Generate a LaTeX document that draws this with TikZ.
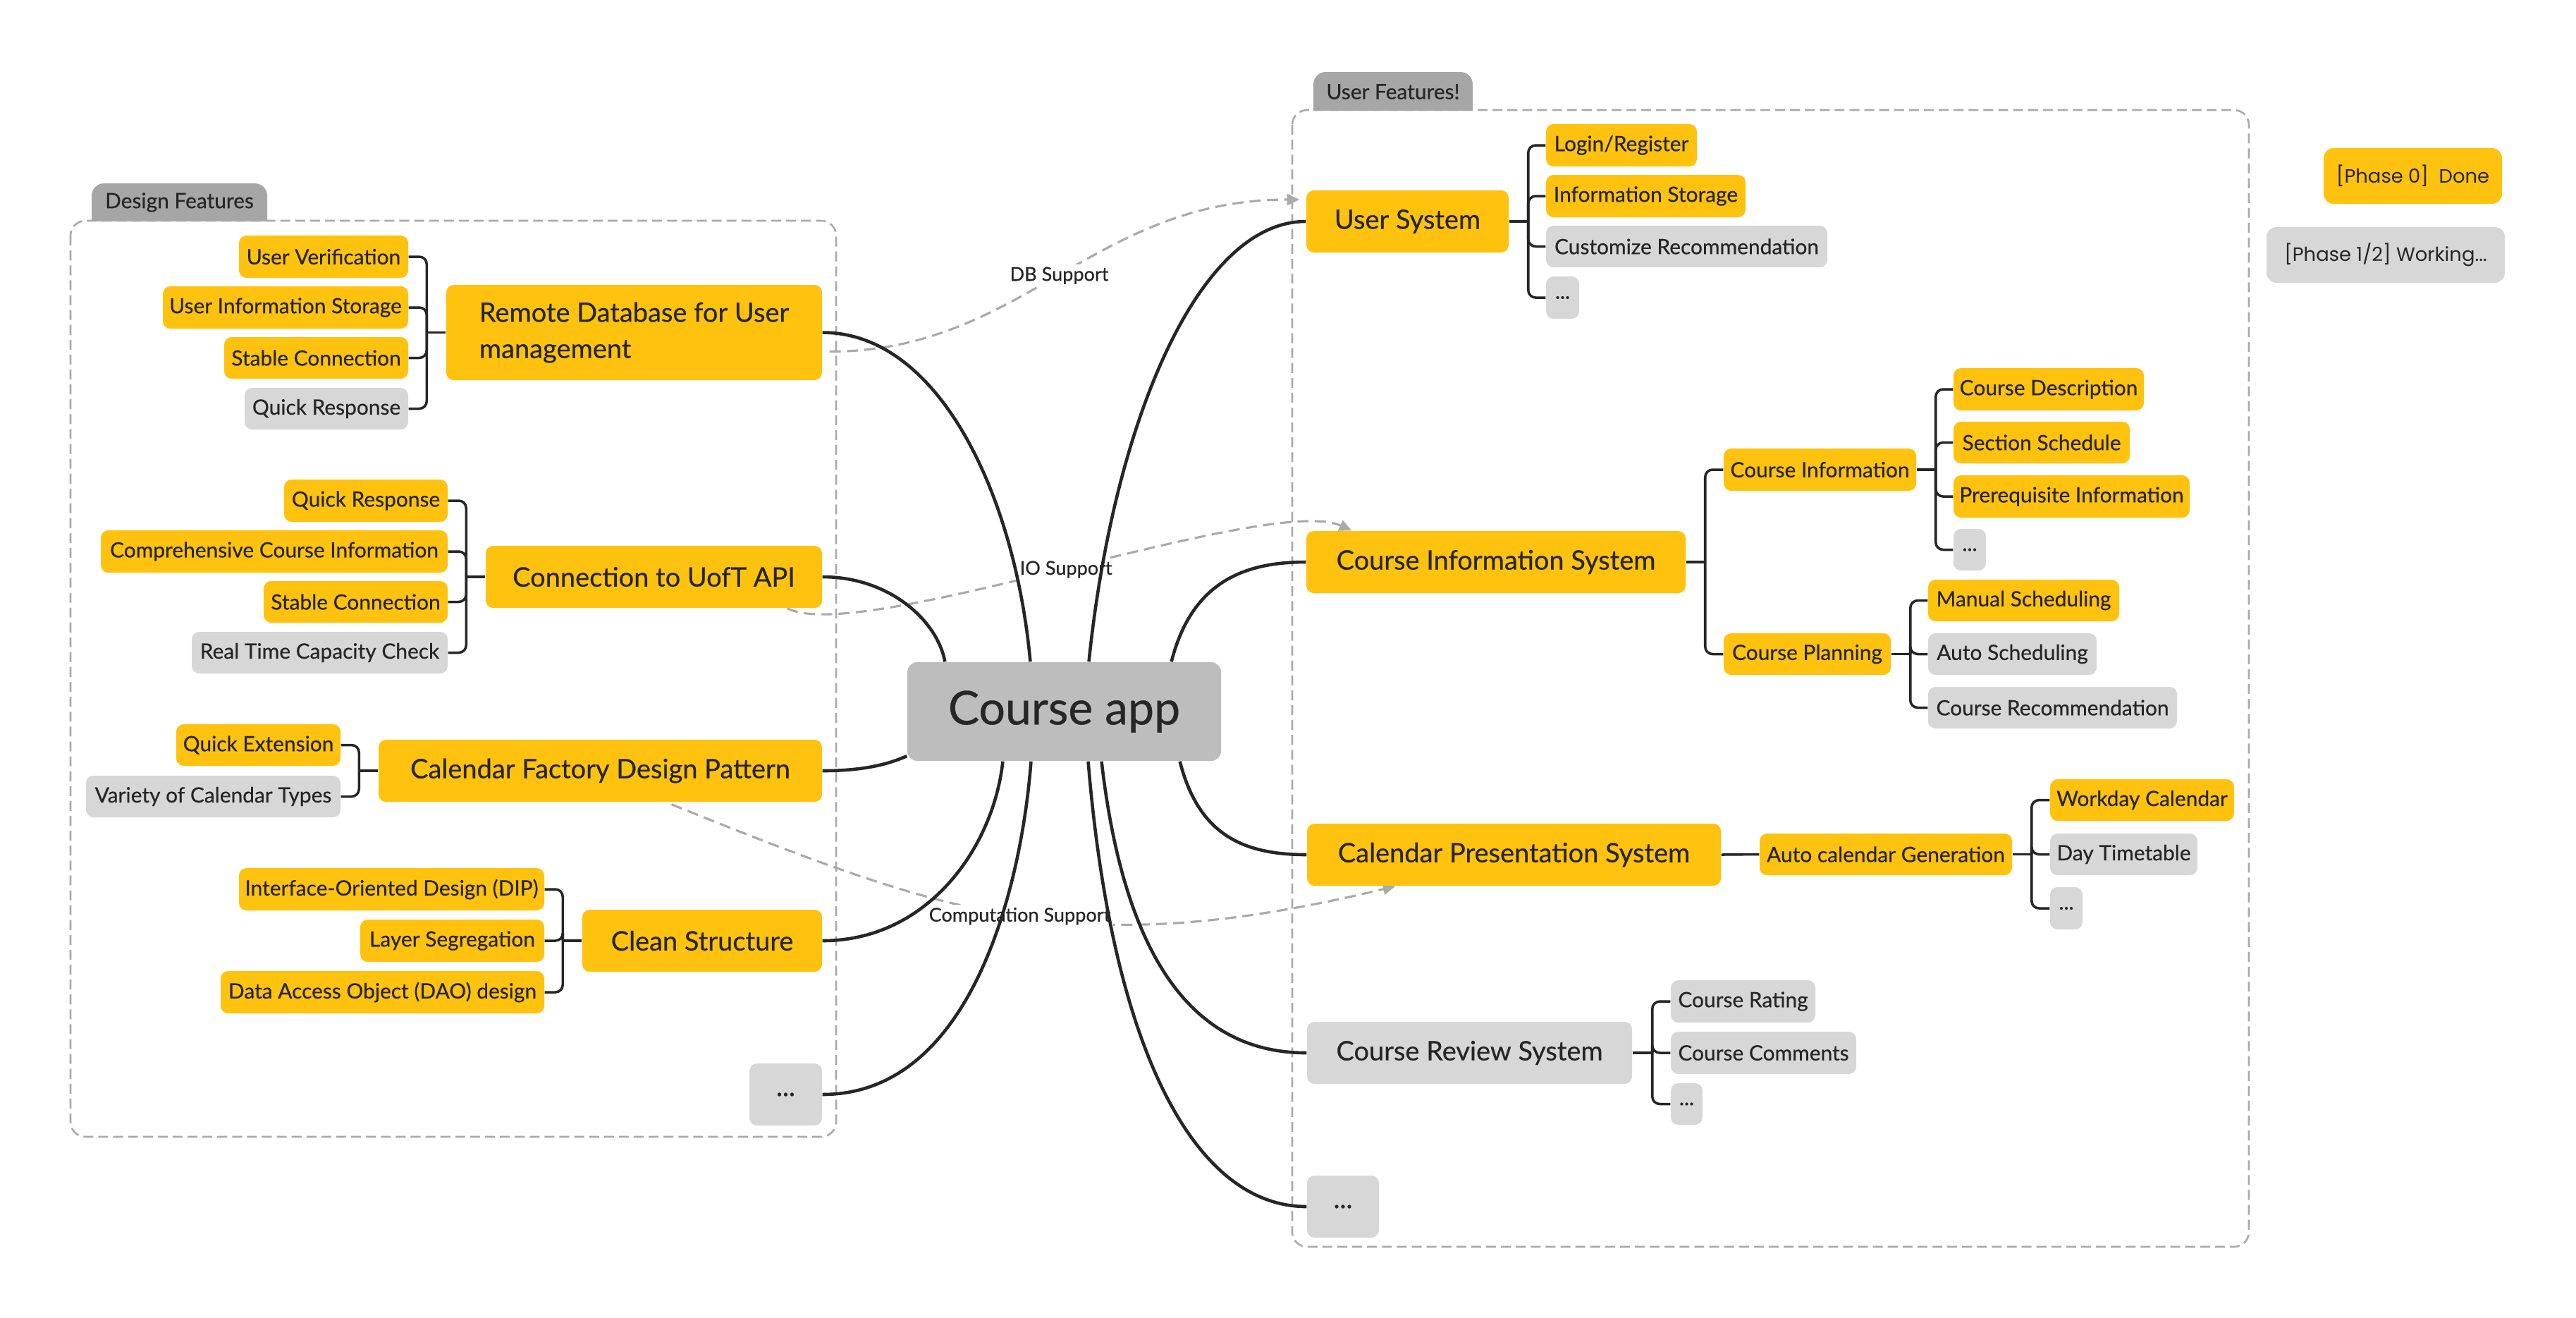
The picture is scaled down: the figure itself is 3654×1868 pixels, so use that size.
\documentclass[tikz,border=0pt]{standalone}
\usepackage{fontspec}
\setmainfont{Lato}[FakeBold=0.5]
\newfontfamily\legendfont{Poppins}
\usetikzlibrary{arrows.meta,backgrounds}

\definecolor{yel}{HTML}{FFC20E}
\definecolor{lgray}{HTML}{D7D7D7}
\definecolor{cgray}{HTML}{BDBDBD}
\definecolor{tabgray}{HTML}{A6A6A6}
\definecolor{dashgray}{HTML}{AAAAAA}
\definecolor{ink}{HTML}{262626}

\newcommand\fsleaf{\fontsize{8.5}{10}\selectfont}
\newcommand\fsmain{\fontsize{10.8}{14.6}\selectfont}
\newcommand\fsroot{\fontsize{18.8}{22}\selectfont}
\newcommand\fslabel{\fontsize{7.7}{9}\selectfont}
\newcommand\fstab{\fontsize{8.5}{10}\selectfont}
\newcommand\fslegend{\legendfont\fontsize{7.8}{9}\selectfont}

% box from its corners (x1,y1)-(x2,y2), in pixel-like units
\newcommand\bx[8][]{\node[#3,minimum width={(#6-#4)*0.01cm},minimum height={(#7-#5)*0.01cm},#1] (#2) at ({(#4+#6)/2},{(#5+#7)/2}) {#8};}

\tikzset{
  box/.style={rounded corners=3pt, inner sep=0pt, align=center, text=ink},
  yleaf/.style={box, fill=yel, font=\fsleaf},
  gleaf/.style={box, fill=lgray, font=\fsleaf},
  ymain/.style={box, fill=yel, font=\fsmain},
  gmain/.style={box, fill=lgray, font=\fsmain},
  rootbox/.style={box, fill=cgray, font=\fsroot, rounded corners=4pt},
  legendbox/.style={box, font=\fslegend, rounded corners=4pt},
  trunk/.style={draw=ink, line width=1.3pt},
  branch/.style={draw=ink, line width=1pt, rounded corners=3pt},
  group/.style={draw=dashgray, line width=0.75pt, dash pattern=on 4pt off 2pt, rounded corners=6pt},
  link/.style={draw=dashgray, line width=0.9pt, dash pattern=on 4.5pt off 2.5pt,
               -{Triangle[length=5pt,width=4.5pt]}},
  linklabel/.style={fill=white, inner sep=1pt, text=ink, font=\fslabel},
  tabtext/.style={text=ink, font=\fstab, inner sep=0pt},
}

\begin{document}
\begin{tikzpicture}[x=0.01cm,y=-0.01cm]
\useasboundingbox (0,0) rectangle (3654,1868);

% ---------- left group: design features ----------
\bx{rdb}{ymain,align=left}{633}{404}{1166}{539}{Remote Database for User\\management}
\bx{rdb1}{yleaf}{339}{334}{579}{394}{User Verification}
\bx{rdb2}{yleaf}{231}{406}{579}{466}{User Information Storage}
\bx{rdb3}{yleaf}{318}{478}{579}{537}{Stable Connection}
\bx{rdb4}{gleaf}{347}{550}{579}{609}{Quick Response}

\bx{api}{ymain}{689}{774}{1166}{862}{Connection to UofT API}
\bx{api1}{yleaf}{403}{680}{635}{740}{Quick Response}
\bx{api2}{yleaf}{143}{752}{635}{812}{Comprehensive Course Information}
\bx{api3}{yleaf}{374}{824}{635}{883}{Stable Connection}
\bx{api4}{gleaf}{272}{896}{635}{955}{Real Time Capacity Check}

\bx{cfd}{ymain}{537}{1049}{1166}{1137}{Calendar Factory Design Pattern}
\bx{cfd1}{yleaf}{250}{1027}{483}{1086}{Quick Extension}
\bx{cfd2}{gleaf}{122}{1100}{483}{1159}{Variety of Calendar Types}

\bx{cs}{ymain}{826}{1290}{1166}{1378}{Clean Structure}
\bx{cs1}{yleaf}{339}{1231}{772}{1291}{Interface-Oriented Design (DIP)}
\bx{cs2}{yleaf}{511}{1304}{772}{1364}{Layer Segregation}
\bx{cs3}{yleaf}{313}{1377}{772}{1437}{Data Access Object (DAO) design}

\bx{ldots}{gmain}{1063}{1508}{1166}{1596}{...}

% ---------- centre ----------
\bx{ca}{rootbox}{1287}{939}{1732}{1079}{Course app}

% ---------- right group: user features ----------
\bx{us}{ymain}{1853}{270}{2140}{358}{User System}
\bx{us1}{yleaf}{2193}{176}{2407}{236}{Login/Register}
\bx{us2}{yleaf}{2193}{248}{2476}{308}{Information Storage}
\bx{us3}{gleaf}{2193}{320}{2592}{379}{Customize Recommendation}
\bx{us4}{gleaf}{2193}{392}{2240}{452}{...}

\bx{cis}{ymain}{1853}{753}{2391}{841}{Course Information System}
\bx{ci}{yleaf}{2445}{636}{2718}{696}{Course Information}
\bx{ci1}{yleaf}{2771}{522}{3041}{582}{Course Description}
\bx{ci2}{yleaf}{2771}{598}{3021}{657}{Section Schedule}
\bx{ci3}{yleaf}{2771}{674}{3106}{734}{Prerequisite Information}
\bx{ci4}{gleaf}{2771}{750}{2817}{809}{...}
\bx{cp}{yleaf}{2445}{898}{2682}{957}{Course Planning}
\bx{cp1}{yleaf}{2735}{822}{3006}{881}{Manual Scheduling}
\bx{cp2}{gleaf}{2735}{898}{2974}{957}{Auto Scheduling}
\bx{cp3}{gleaf}{2735}{974}{3088}{1033}{Course Recommendation}

\bx{cps}{ymain}{1854}{1168}{2441}{1256}{Calendar Presentation System}
\bx{acg}{yleaf}{2496}{1182}{2854}{1241}{Auto calendar Generation}
\bx{acg1}{yleaf}{2908}{1105}{3169}{1164}{Workday Calendar}
\bx{acg2}{gleaf}{2908}{1182}{3117}{1241}{Day Timetable}
\bx{acg3}{gleaf}{2908}{1258}{2954}{1318}{...}

\bx{crs}{gmain}{1854}{1449}{2315}{1537}{Course Review System}
\bx{crs1}{gleaf}{2370}{1390}{2575}{1450}{Course Rating}
\bx{crs2}{gleaf}{2370}{1463}{2633}{1523}{Course Comments}
\bx{crs3}{gleaf}{2370}{1536}{2415}{1595}{...}

\bx{rdots}{gmain}{1854}{1667}{1956}{1755}{...}

% ---------- legend ----------
\bx{lg0}{legendbox,fill=yel}{3296}{210}{3549}{289}{[Phase 0]\ \ Done}
\bx{lg1}{legendbox,fill=lgray}{3215}{322}{3553}{401}{[Phase 1/2] Working...}

% ---------- group tabs ----------
\begin{scope}
  \clip (130,250) rectangle (379,313);
  \fill[tabgray, rounded corners=5pt] (130,260) rectangle (379,340);
\end{scope}
\node[tabtext] (tabL) at (254.5,287) {Design Features};
\begin{scope}
  \clip (1863,92) rectangle (2089,156);
  \fill[tabgray, rounded corners=5pt] (1863,102) rectangle (2089,180);
\end{scope}
\node[tabtext] (tabR) at (1976,130) {User Features!};

\begin{pgfonlayer}{background}
  % group frames
  \draw[group] (100,313) rectangle (1186,1612);
  \draw[group] (1833,156) rectangle (3190,1768);

  % dependency links
  \draw[link] ([xshift=0.1cm,yshift=-0.27cm]rdb.east)
     .. controls +(274,0) and +(-294,0) .. ([xshift=-0.09cm,yshift=0.31cm]us.west)
     node[linklabel,pos=0.5] (dbl) {DB Support};
  \draw[link] ([xshift=-0.5cm]api.south east)
     .. controls +(105,53) and +(-118,-53) .. ([xshift=0.65cm]cis.north west)
     node[linklabel,pos=0.5] (iol) {IO Support};
  \draw[link] ([xshift=1.01cm,yshift=-0.03cm]cfd.south)
     .. controls +(399,160) and +(-451,108) .. ([xshift=1.26cm]cps.south west)
     node[linklabel,pos=0.5] (cpl) {Computation Support};

  % trunks from the centre
  \draw[trunk] (rdb.east) .. controls +(164,0) and +(-22,-239) .. ([xshift=-0.48cm]ca.north);
  \draw[trunk] (api.east) .. controls +(94,0) and +(-11,-59) .. ([xshift=-1.69cm]ca.north);
  \draw[trunk] (cfd.east) .. controls +(54,0) and +(-29,13) .. ([yshift=-0.63cm]ca.west);
  \draw[trunk] (cs.east) .. controls +(150,0) and +(-13,121) .. ([xshift=-0.87cm]ca.south);
  \draw[trunk] (ldots.east) .. controls +(214,0) and +(-13,171) .. ([xshift=-0.47cm]ca.south);
  \draw[trunk] ([xshift=0.35cm]ca.north) .. controls +(35,-339) and +(-153,0) .. (us.west);
  \draw[trunk] ([xshift=1.52cm]ca.north) .. controls +(28,-109) and +(-93,0) .. (cis.west);
  \draw[trunk] ([xshift=1.64cm]ca.south) .. controls +(26,101) and +(-94,0) .. (cps.west);
  \draw[trunk] ([xshift=0.53cm]ca.south) .. controls +(37,321) and +(-134,0) .. (crs.west);
  \draw[trunk] ([xshift=0.34cm]ca.south) .. controls +(35,421) and +(-154,0) .. (rdots.west);

  % left brackets
  \draw[branch] (rdb.west) -- ([xshift=-0.27cm]rdb.west);
  \foreach \c in {rdb1,rdb2,rdb3,rdb4} \draw[branch] ([xshift=-0.27cm]rdb.west) |- (\c.east);
  \draw[branch] (api.west) -- ([xshift=-0.27cm]api.west);
  \foreach \c in {api1,api2,api3,api4} \draw[branch] ([xshift=-0.27cm]api.west) |- (\c.east);
  \draw[branch] (cfd.west) -- ([xshift=-0.27cm]cfd.west);
  \foreach \c in {cfd1,cfd2} \draw[branch] ([xshift=-0.27cm]cfd.west) |- (\c.east);
  \draw[branch] (cs.west) -- ([xshift=-0.27cm]cs.west);
  \foreach \c in {cs1,cs2,cs3} \draw[branch] ([xshift=-0.27cm]cs.west) |- (\c.east);

  % right brackets
  \draw[branch] (us.east) -- ([xshift=0.27cm]us.east);
  \foreach \c in {us1,us2,us3,us4} \draw[branch] ([xshift=0.27cm]us.east) |- (\c.west);
  \draw[branch] (cis.east) -- ([xshift=0.27cm]cis.east);
  \foreach \c in {ci,cp} \draw[branch] ([xshift=0.27cm]cis.east) |- (\c.west);
  \draw[branch] (ci.east) -- ([xshift=0.27cm]ci.east);
  \foreach \c in {ci1,ci2,ci3,ci4} \draw[branch] ([xshift=0.27cm]ci.east) |- (\c.west);
  \draw[branch] (cp.east) -- ([xshift=0.27cm]cp.east);
  \foreach \c in {cp1,cp2,cp3} \draw[branch] ([xshift=0.27cm]cp.east) |- (\c.west);
  \draw[branch] (cps.east) -- (acg.west);
  \draw[branch] (acg.east) -- ([xshift=0.27cm]acg.east);
  \foreach \c in {acg1,acg2,acg3} \draw[branch] ([xshift=0.27cm]acg.east) |- (\c.west);
  \draw[branch] (crs.east) -- ([xshift=0.28cm]crs.east);
  \foreach \c in {crs1,crs2,crs3} \draw[branch] ([xshift=0.28cm]crs.east) |- (\c.west);
\end{pgfonlayer}
\end{tikzpicture}
\end{document}
